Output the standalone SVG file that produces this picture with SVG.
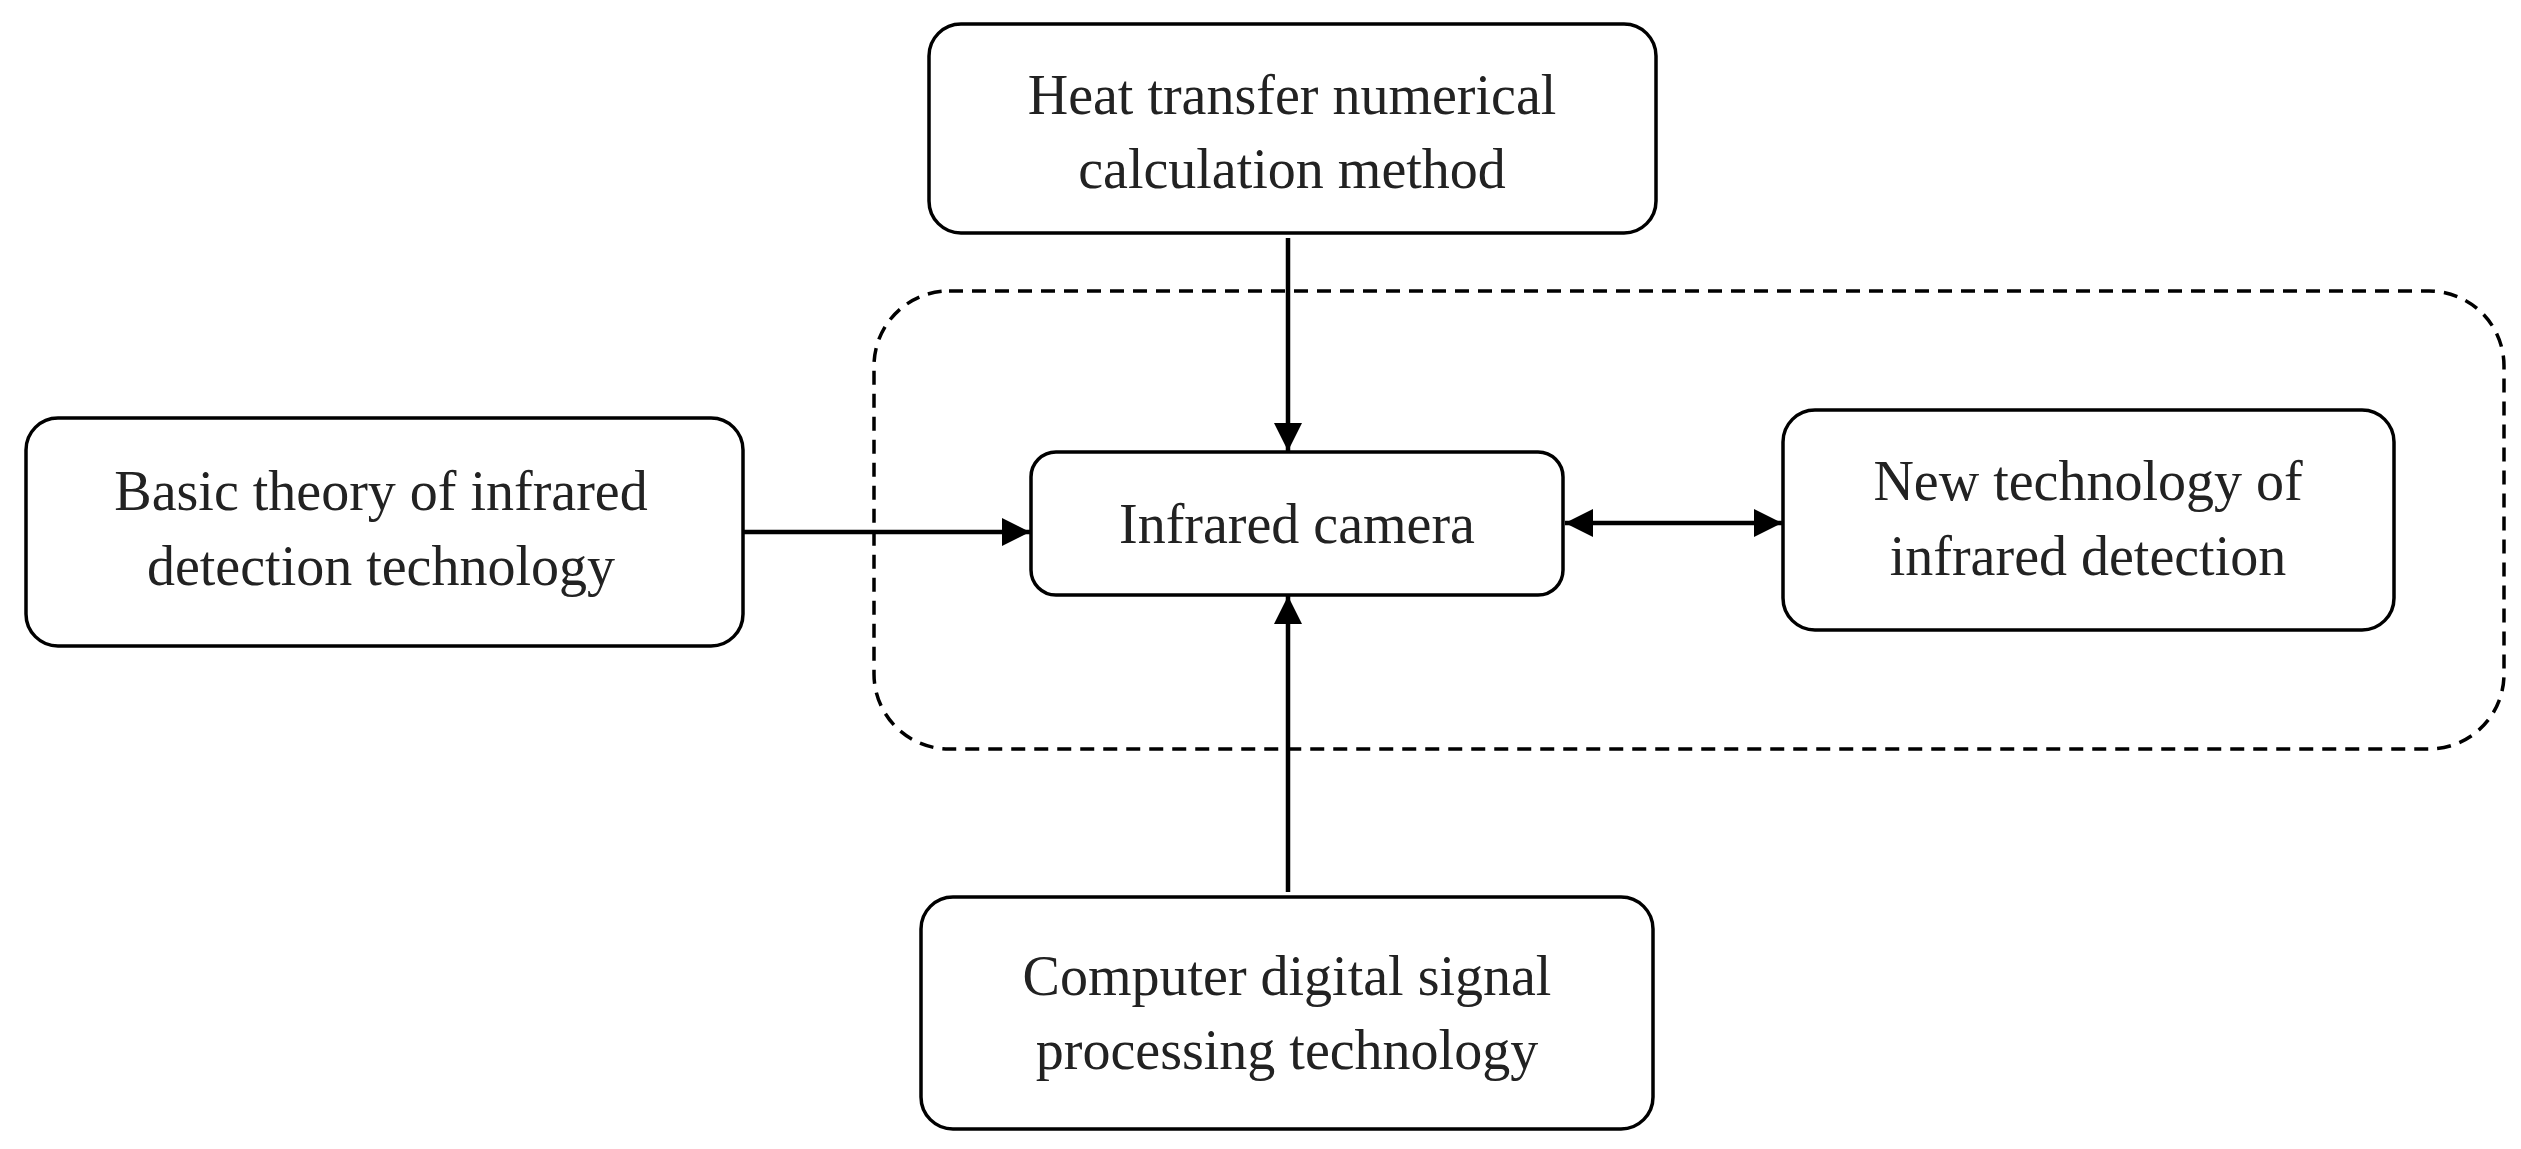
<svg xmlns="http://www.w3.org/2000/svg" width="2521" height="1149" viewBox="0 0 2521 1149">
<style>
.b{fill:#fff;stroke:#000;stroke-width:3.5}
.t{font-family:"Liberation Serif",serif;font-size:56px;fill:#222;text-anchor:middle}
.c{stroke:#000;stroke-width:4.5;fill:none}
</style>
<defs>
<marker id="a" viewBox="0 0 10 10" refX="10" refY="5" markerWidth="32" markerHeight="28" markerUnits="userSpaceOnUse" orient="auto-start-reverse">
<path d="M0,0L10,5L0,10z" fill="#000"/>
</marker>
</defs>
<rect fill="#fff" width="2521" height="1149"/>
<g id="region"><rect x="874" y="291" width="1630" height="458" rx="75" fill="none" stroke="#000" stroke-width="3.5" stroke-dasharray="14,9"/></g>
<g id="connectors">
<line class="c" x1="1288" y1="238" x2="1288" y2="451" marker-end="url(#a)"/>
<line class="c" x1="743" y1="532" x2="1030" y2="532" marker-end="url(#a)"/>
<line class="c" x1="1288" y1="892" x2="1288" y2="596" marker-end="url(#a)"/>
<line class="c" x1="1565" y1="523" x2="1782" y2="523" marker-start="url(#a)" marker-end="url(#a)"/>
</g>
<g id="heat"><rect class="b" x="929" y="24" width="727" height="209" rx="32"/>
<text class="t" x="1292" y="114">Heat transfer numerical</text><text class="t" x="1292" y="188">calculation method</text></g>
<g id="basic"><rect class="b" x="26" y="418" width="717" height="228" rx="32"/>
<text class="t" x="381" y="510">Basic theory of infrared</text><text class="t" x="381" y="585">detection technology</text></g>
<g id="camera"><rect class="b" x="1031" y="452" width="532" height="143" rx="25"/>
<text class="t" x="1297" y="543">Infrared camera</text></g>
<g id="newtech"><rect class="b" x="1783" y="410" width="611" height="220" rx="32"/>
<text class="t" x="2088" y="500">New technology of</text><text class="t" x="2088" y="575">infrared detection</text></g>
<g id="computer"><rect class="b" x="921" y="897" width="732" height="232" rx="32"/>
<text class="t" x="1287" y="995">Computer digital signal</text><text class="t" x="1287" y="1069">processing technology</text></g>
</svg>
